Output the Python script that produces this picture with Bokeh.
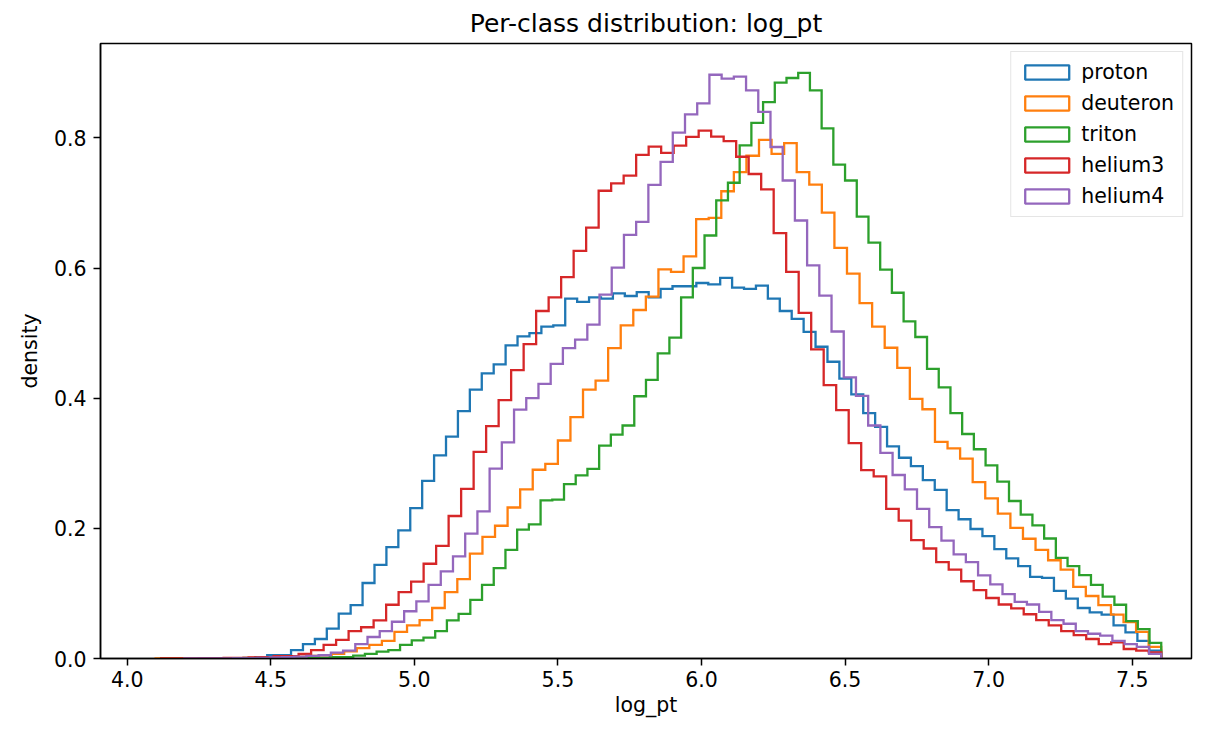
import numpy as np
from bokeh.plotting import figure
from bokeh.models import Legend, LegendItem, FixedTicker, PrintfTickFormatter, Range1d
from bokeh.embed import file_html
from bokeh.resources import INLINE

# ---------------- data ----------------
classes = ["proton", "deuteron", "triton", "helium3", "helium4"]
colors = ["#1f77b4", "#ff7f0e", "#2ca02c", "#d62728", "#9467bd"]

n_bins = 80
hist_hi = 7.6011
# each class histogram spans its own [min, max] of log_pt
proton_lo = 4.280
deuteron_lo = 4.099
triton_lo = 4.3385
helium3_lo = 4.118
helium4_lo = 4.199

proton_density = [
    0.0002, 0.0003, 0.0006, 0.001, 0.002, 0.005, 0.005, 0.013, 0.022, 0.030,
    0.046, 0.069, 0.082, 0.116, 0.144, 0.171, 0.197, 0.231, 0.273, 0.312,
    0.341, 0.380, 0.413, 0.438, 0.452, 0.481, 0.495, 0.500, 0.510, 0.512,
    0.553, 0.548, 0.555, 0.553, 0.561, 0.557, 0.563, 0.555, 0.568, 0.572,
    0.572, 0.577, 0.575, 0.585, 0.570, 0.568, 0.573, 0.553, 0.534, 0.522,
    0.502, 0.479, 0.456, 0.430, 0.406, 0.377, 0.356, 0.326, 0.3085, 0.2955,
    0.274, 0.259, 0.228, 0.214, 0.199, 0.188, 0.168, 0.154, 0.142, 0.1255,
    0.124, 0.104, 0.092, 0.0776, 0.071, 0.0675, 0.051, 0.040, 0.027, 0.012,
]
deuteron_density = [
    0.0001, 0.0001, 0.0002, 0.0002, 0.0003, 0.0003, 0.0005, 0.0008, 0.001, 0.0015,
    0.002, 0.003, 0.004, 0.005, 0.007, 0.011, 0.016, 0.021, 0.027, 0.041,
    0.051, 0.059, 0.0776, 0.102, 0.122, 0.161, 0.187, 0.204, 0.232, 0.260,
    0.290, 0.299, 0.335, 0.371, 0.413, 0.427, 0.477, 0.512, 0.5355, 0.556,
    0.598, 0.594, 0.618, 0.675, 0.677, 0.718, 0.7475, 0.7725, 0.797, 0.7755,
    0.792, 0.7475, 0.728, 0.685, 0.631, 0.5915, 0.546, 0.510, 0.4775, 0.4467,
    0.399, 0.383, 0.333, 0.323, 0.307, 0.271, 0.246, 0.2225, 0.2006, 0.184,
    0.167, 0.151, 0.1365, 0.110, 0.096, 0.082, 0.0675, 0.056, 0.041, 0.018,
]
triton_density = [
    0.0, 0.0001, 0.0001, 0.0002, 0.0002, 0.0003, 0.0005, 0.0008, 0.001, 0.002,
    0.002, 0.0045, 0.007, 0.0106, 0.013, 0.021, 0.028, 0.032, 0.042, 0.0585,
    0.0685, 0.090, 0.113, 0.139, 0.167, 0.198, 0.206, 0.243, 0.244, 0.268,
    0.2815, 0.2915, 0.327, 0.344, 0.358, 0.403, 0.428, 0.469, 0.493, 0.555,
    0.600, 0.650, 0.704, 0.731, 0.7885, 0.823, 0.855, 0.885, 0.892, 0.900,
    0.873, 0.8145, 0.759, 0.7345, 0.679, 0.639, 0.5975, 0.562, 0.518, 0.494,
    0.445, 0.4165, 0.377, 0.345, 0.3215, 0.2966, 0.2717, 0.242, 0.221, 0.2045,
    0.1844, 0.1547, 0.142, 0.128, 0.113, 0.095, 0.0826, 0.0574, 0.045, 0.024,
]
helium3_density = [
    0.0002, 0.0003, 0.0003, 0.0005, 0.0005, 0.0008, 0.001, 0.0015, 0.002, 0.0035,
    0.0035, 0.007, 0.013, 0.021, 0.0287, 0.042, 0.048, 0.0585, 0.0826, 0.102,
    0.118, 0.1456, 0.173, 0.219, 0.2605, 0.3175, 0.357, 0.397, 0.443, 0.483,
    0.534, 0.555, 0.586, 0.6265, 0.662, 0.7187, 0.730, 0.742, 0.774, 0.7865,
    0.777, 0.788, 0.8015, 0.811, 0.802, 0.795, 0.771, 0.7445, 0.721, 0.6535,
    0.594, 0.531, 0.475, 0.420, 0.3815, 0.331, 0.2895, 0.280, 0.230, 0.212,
    0.182, 0.169, 0.148, 0.1365, 0.1187, 0.105, 0.093, 0.083, 0.077, 0.068,
    0.059, 0.051, 0.042, 0.0358, 0.030, 0.022, 0.0247, 0.0146, 0.012, 0.0095,
]
helium4_density = [
    0.0001, 0.0001, 0.0002, 0.0003, 0.0004, 0.0005, 0.001, 0.0015, 0.002, 0.003,
    0.004, 0.005, 0.009, 0.012, 0.022, 0.033, 0.042, 0.0565, 0.0726, 0.0877,
    0.113, 0.134, 0.157, 0.192, 0.226, 0.2918, 0.332, 0.3825, 0.400, 0.422,
    0.4526, 0.477, 0.490, 0.513, 0.559, 0.6006, 0.651, 0.671, 0.7277, 0.763,
    0.808, 0.836, 0.853, 0.897, 0.891, 0.894, 0.873, 0.840, 0.786, 0.7345,
    0.673, 0.604, 0.5577, 0.5025, 0.432, 0.4035, 0.358, 0.316, 0.282, 0.260,
    0.230, 0.2018, 0.181, 0.160, 0.148, 0.1276, 0.114, 0.099, 0.087, 0.083,
    0.0716, 0.059, 0.0534, 0.042, 0.038, 0.035, 0.027, 0.022, 0.018, 0.007,
]

x_ticks = [4.0, 4.5, 5.0, 5.5, 6.0, 6.5, 7.0, 7.5]
y_ticks = [0.0, 0.2, 0.4, 0.6, 0.8]

title_text = "Per-class distribution: log_pt"
x_label = "log_pt"
y_label = "density"

series_lo = [proton_lo, deuteron_lo, triton_lo, helium3_lo, helium4_lo]
series_vals = [proton_density, deuteron_density, triton_density,
               helium3_density, helium4_density]

# ---------------- figure ----------------
FONT = "DejaVu Sans"
p = figure(width=1193, height=719, output_backend="svg", toolbar_location=None,
           x_range=Range1d(3.907, 7.7065), y_range=Range1d(0.0, 0.945),
           min_border_left=100, min_border_right=2, min_border_top=43,
           min_border_bottom=0, title=title_text)
p.background_fill_color = "white"
p.border_fill_color = "white"
p.outline_line_color = "black"
p.outline_line_width = 1.5
p.outline_line_alpha = 1.0
p.xgrid.visible = False
p.ygrid.visible = False

p.title.text_font = FONT
p.title.text_font_size = "25px"
p.title.text_font_style = "normal"
p.title.text_color = "black"
p.title.align = "center"
p.title.standoff = 11

for ax, ticks in ((p.xaxis, x_ticks), (p.yaxis, y_ticks)):
    ax.ticker = FixedTicker(ticks=ticks)
    ax.formatter = PrintfTickFormatter(format="%.1f")
    ax.major_label_text_font = FONT
    ax.major_label_text_font_size = "20.5px"
    ax.major_label_text_color = "black"
    ax.major_tick_out = 7
    ax.major_tick_in = 0
    ax.major_tick_line_width = 1.5
    ax.major_tick_line_color = "black"
    ax.minor_tick_line_color = None
    ax.axis_line_color = "black"
    ax.axis_line_width = 1.5
    ax.axis_label_text_font = FONT
    ax.axis_label_text_font_size = "20.5px"
    ax.axis_label_text_font_style = "normal"
    ax.axis_label_text_color = "black"

p.xaxis.major_label_standoff = 5
p.yaxis.major_label_standoff = 7
p.xaxis.axis_label = x_label
p.yaxis.axis_label = y_label
p.xaxis.axis_label_standoff = 3
p.yaxis.axis_label_standoff = 9

items = []
for name, color, lo, vals in zip(classes, colors, series_lo, series_vals):
    edges = np.linspace(lo, hist_hi, n_bins + 1)
    h = np.asarray(vals, dtype=float)
    xs = np.repeat(edges, 2)
    ys = np.concatenate([[0.0], np.repeat(h, 2), [0.0]])
    p.line(xs, ys, line_color=color, line_width=2.3, line_join="miter")
    # bar form of the same histogram, hidden: it only supplies the legend patch
    q = p.quad(left=edges[:-1], right=edges[1:], top=h, bottom=0.0,
               fill_alpha=0, line_color=color, line_width=2.3, visible=False)
    items.append(LegendItem(label=name, renderers=[q]))

legend = Legend(items=items, location="top_right")
legend.click_policy = "none"
legend.inactive_fill_alpha = 0.0
legend.label_text_font = FONT
legend.label_text_font_size = "20.5px"
legend.label_text_color = "black"
legend.glyph_width = 55
legend.glyph_height = 18
legend.label_height = 22
legend.label_standoff = 7
legend.spacing = 7
legend.padding = 8
legend.margin = 8
legend.border_line_color = "#cccccc"
legend.border_line_width = 1.5
legend.background_fill_color = "white"
legend.background_fill_alpha = 0.8
p.add_layout(legend)

open("out.html", "w").write(file_html(p, INLINE))
